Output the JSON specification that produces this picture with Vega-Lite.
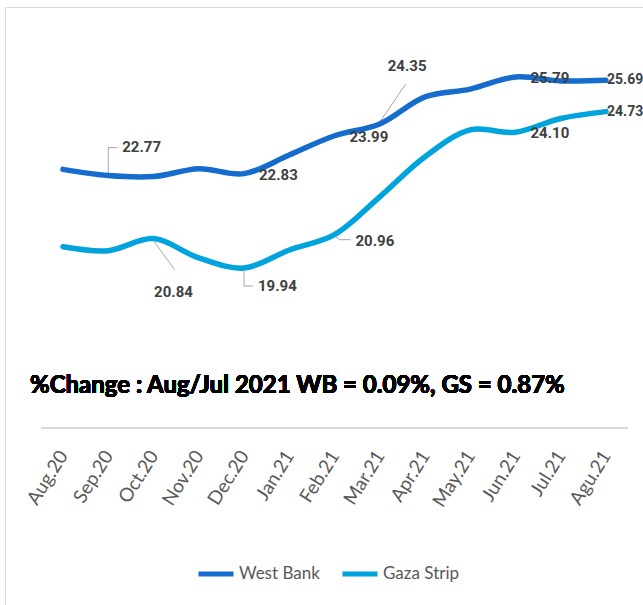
{
  "$schema": "https://vega.github.io/schema/vega-lite/v6.json",
  "width": 659,
  "height": 600,
  "padding": {"left": 5, "top": 7, "right": 0, "bottom": 0},
  "autosize": {"type": "none"},
  "background": "white",
  "config": {"view": {"stroke": "#D9D9D9", "strokeWidth": 1}},
  "data": {
    "values": [
      {"Month": "Aug.20", "Region": "West Bank", "Value": 22.96},
      {"Month": "Sep.20", "Region": "West Bank", "Value": 22.77},
      {"Month": "Oct.20", "Region": "West Bank", "Value": 22.74},
      {"Month": "Nov.20", "Region": "West Bank", "Value": 22.98},
      {"Month": "Dec.20", "Region": "West Bank", "Value": 22.83},
      {"Month": "Jan.21", "Region": "West Bank", "Value": 23.40},
      {"Month": "Feb.21", "Region": "West Bank", "Value": 23.99},
      {"Month": "Mar.21", "Region": "West Bank", "Value": 24.35},
      {"Month": "Apr.21", "Region": "West Bank", "Value": 25.18},
      {"Month": "May.21", "Region": "West Bank", "Value": 25.42},
      {"Month": "Jun.21", "Region": "West Bank", "Value": 25.79},
      {"Month": "Jul.21", "Region": "West Bank", "Value": 25.67},
      {"Month": "Agu.21", "Region": "West Bank", "Value": 25.69},
      {"Month": "Aug.20", "Region": "Gaza Strip", "Value": 20.59},
      {"Month": "Sep.20", "Region": "Gaza Strip", "Value": 20.47},
      {"Month": "Oct.20", "Region": "Gaza Strip", "Value": 20.84},
      {"Month": "Nov.20", "Region": "Gaza Strip", "Value": 20.25},
      {"Month": "Dec.20", "Region": "Gaza Strip", "Value": 19.94},
      {"Month": "Jan.21", "Region": "Gaza Strip", "Value": 20.49},
      {"Month": "Feb.21", "Region": "Gaza Strip", "Value": 20.96},
      {"Month": "Mar.21", "Region": "Gaza Strip", "Value": 22.12},
      {"Month": "Apr.21", "Region": "Gaza Strip", "Value": 23.35},
      {"Month": "May.21", "Region": "Gaza Strip", "Value": 24.17},
      {"Month": "Jun.21", "Region": "Gaza Strip", "Value": 24.10},
      {"Month": "Jul.21", "Region": "Gaza Strip", "Value": 24.52},
      {"Month": "Agu.21", "Region": "Gaza Strip", "Value": 24.73}
    ]
  },
  "encoding": {
    "x": {
      "field": "Month",
      "type": "ordinal",
      "scale": {
        "type": "point",
        "padding": 0,
        "range": [58, 601],
        "domain": ["Aug.20", "Sep.20", "Oct.20", "Nov.20", "Dec.20", "Jan.21", "Feb.21", "Mar.21", "Apr.21", "May.21", "Jun.21", "Jul.21", "Agu.21"]
      },
      "axis": {
        "title": null,
        "orient": "bottom",
        "offset": -179,
        "domain": false,
        "ticks": false,
        "grid": false,
        "labelAngle": -58,
        "labelAlign": "right",
        "labelBaseline": "middle",
        "labelPadding": 24,
        "labelFont": "Lato",
        "labelFontSize": 19,
        "labelColor": "#595959"
      }
    },
    "y": {
      "field": "Value",
      "type": "quantitative",
      "scale": {"domain": [9.557, 27.934], "nice": false, "zero": false},
      "axis": null
    }
  },
  "layer": [
    {
      "mark": {"type": "rule", "color": "#D9D9D9", "strokeWidth": 2, "xOffset": -22, "x2Offset": 22},
      "encoding": {
        "x": {"datum": "Aug.20", "type": "ordinal"},
        "x2": {"datum": "Agu.21"},
        "y": {"datum": 15.04, "type": "quantitative"}
      }
    },
    {
      "transform": [{"filter": "datum.Month == 'Sep.20' && datum.Region == 'West Bank'"}],
      "mark": {"type": "rule", "color": "#A6A6A6", "strokeWidth": 1, "yOffset": 0, "y2Offset": -28},
      "encoding": {"x2": {"field": "Month"}, "y2": {"field": "Value"}}
    },
    {
      "transform": [{"filter": "datum.Month == 'Sep.20' && datum.Region == 'West Bank'"}],
      "mark": {"type": "rule", "color": "#A6A6A6", "strokeWidth": 1, "yOffset": -28, "y2Offset": -28, "x2Offset": 9},
      "encoding": {"x2": {"field": "Month"}, "y2": {"field": "Value"}}
    },
    {
      "transform": [{"filter": "datum.Month == 'Oct.20' && datum.Region == 'Gaza Strip'"}],
      "mark": {"type": "rule", "color": "#A6A6A6", "strokeWidth": 1, "yOffset": 2, "x2Offset": 21, "y2Offset": 31},
      "encoding": {"x2": {"field": "Month"}, "y2": {"field": "Value"}}
    },
    {
      "transform": [{"filter": "datum.Month == 'Dec.20' && datum.Region == 'Gaza Strip'"}],
      "mark": {"type": "rule", "color": "#A6A6A6", "strokeWidth": 1, "yOffset": 3, "y2Offset": 18},
      "encoding": {"x2": {"field": "Month"}, "y2": {"field": "Value"}}
    },
    {
      "transform": [{"filter": "datum.Month == 'Dec.20' && datum.Region == 'Gaza Strip'"}],
      "mark": {"type": "rule", "color": "#A6A6A6", "strokeWidth": 1, "yOffset": 18, "y2Offset": 18, "x2Offset": 9},
      "encoding": {"x2": {"field": "Month"}, "y2": {"field": "Value"}}
    },
    {
      "transform": [{"filter": "datum.Month == 'Feb.21' && datum.Region == 'Gaza Strip'"}],
      "mark": {"type": "rule", "color": "#A6A6A6", "strokeWidth": 1, "yOffset": 1, "x2Offset": 5, "y2Offset": 5},
      "encoding": {"x2": {"field": "Month"}, "y2": {"field": "Value"}}
    },
    {
      "transform": [{"filter": "datum.Month == 'Feb.21' && datum.Region == 'Gaza Strip'"}],
      "mark": {"type": "rule", "color": "#A6A6A6", "strokeWidth": 1, "xOffset": 5, "yOffset": 5, "x2Offset": 16, "y2Offset": 5},
      "encoding": {"x2": {"field": "Month"}, "y2": {"field": "Value"}}
    },
    {
      "transform": [{"filter": "datum.Month == 'Mar.21' && datum.Region == 'West Bank'"}],
      "mark": {"type": "rule", "color": "#A6A6A6", "strokeWidth": 1, "yOffset": -2, "x2Offset": 26, "y2Offset": -40},
      "encoding": {"x2": {"field": "Month"}, "y2": {"field": "Value"}}
    },
    {
      "mark": {"type": "line", "interpolate": "catmull-rom", "strokeWidth": 5.5, "strokeCap": "round"},
      "encoding": {
        "color": {
          "field": "Region",
          "type": "nominal",
          "scale": {"domain": ["West Bank", "Gaza Strip"], "range": ["#166CCD", "#00A3DC"]},
          "legend": {
            "title": null,
            "orient": "none",
            "direction": "horizontal",
            "legendX": 191,
            "legendY": 547,
            "padding": 0,
            "symbolType": "stroke",
            "symbolSize": 1225,
            "symbolStrokeWidth": 5,
            "labelOffset": 3,
            "columnPadding": 12,
            "labelFont": "Lato",
            "labelFontSize": 17,
            "labelColor": "#595959"
          }
        }
      }
    },
    {
      "transform": [{"filter": "(datum.Month == 'Dec.20' && datum.Region == 'West Bank') || (datum.Month == 'Feb.21' && datum.Region == 'West Bank') || (datum.Month == 'Jun.21')"}],
      "mark": {"type": "text", "align": "left", "baseline": "middle", "dx": 15, "dy": 1, "font": "Roboto", "fontWeight": "bold", "fontSize": 15, "color": "#404040"},
      "encoding": {"text": {"field": "Value", "format": ".2f"}}
    },
    {
      "transform": [{"filter": "datum.Month == 'Agu.21'"}],
      "mark": {"type": "text", "align": "left", "baseline": "middle", "dx": 1, "dy": 0, "font": "Roboto", "fontWeight": "bold", "fontSize": 14, "color": "#404040"},
      "encoding": {"text": {"field": "Value", "format": ".2f"}}
    },
    {
      "transform": [{"filter": "datum.Month == 'Sep.20' && datum.Region == 'West Bank'"}],
      "mark": {"type": "text", "align": "left", "baseline": "middle", "dx": 14, "dy": -29, "font": "Roboto", "fontWeight": "bold", "fontSize": 15, "color": "#404040"},
      "encoding": {"text": {"field": "Value", "format": ".2f"}}
    },
    {
      "transform": [{"filter": "datum.Month == 'Oct.20' && datum.Region == 'Gaza Strip'"}],
      "mark": {"type": "text", "align": "center", "baseline": "middle", "dx": 20, "dy": 53, "font": "Roboto", "fontWeight": "bold", "fontSize": 15, "color": "#404040"},
      "encoding": {"text": {"field": "Value", "format": ".2f"}}
    },
    {
      "transform": [{"filter": "datum.Month == 'Dec.20' && datum.Region == 'Gaza Strip'"}],
      "mark": {"type": "text", "align": "left", "baseline": "middle", "dx": 14, "dy": 18, "font": "Roboto", "fontWeight": "bold", "fontSize": 15, "color": "#404040"},
      "encoding": {"text": {"field": "Value", "format": ".2f"}}
    },
    {
      "transform": [{"filter": "datum.Month == 'Feb.21' && datum.Region == 'Gaza Strip'"}],
      "mark": {"type": "text", "align": "left", "baseline": "middle", "dx": 21, "dy": 6, "font": "Roboto", "fontWeight": "bold", "fontSize": 15, "color": "#404040"},
      "encoding": {"text": {"field": "Value", "format": ".2f"}}
    },
    {
      "transform": [{"filter": "datum.Month == 'Mar.21' && datum.Region == 'West Bank'"}],
      "mark": {"type": "text", "align": "left", "baseline": "middle", "dx": 8, "dy": -58, "font": "Roboto", "fontWeight": "bold", "fontSize": 15, "color": "#404040"},
      "encoding": {"text": {"field": "Value", "format": ".2f"}}
    },
    {
      "mark": {"type": "text", "align": "left", "baseline": "alphabetic", "dx": -33, "font": "Lato", "fontWeight": "bold", "fontSize": 24, "color": "#000000"},
      "encoding": {
        "x": {"datum": "Aug.20", "type": "ordinal"},
        "y": {"datum": 16.112, "type": "quantitative"},
        "text": {"value": "%Change : Aug/Jul 2021 WB = 0.09%, GS = 0.87%"}
      }
    }
  ]
}
